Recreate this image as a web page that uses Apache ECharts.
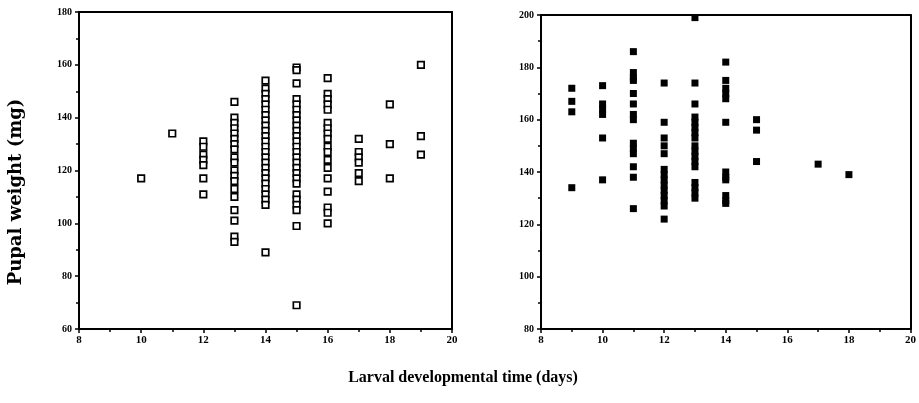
<!DOCTYPE html>
<html><head><meta charset="utf-8">
<script src="https://cdn.jsdelivr.net/npm/echarts@6/dist/echarts.min.js"></script>
<style>html,body{margin:0;padding:0;background:#fff}#c{width:919px;height:403px}</style>
</head><body><div id="c"></div>
<script>
// Left panel: developmental time (days) -> pupal weight (mg), hollow squares
const leftDays = [10, 11, 12, 13, 14, 15, 16, 17, 18, 19];
const leftWeights = [
  [117],
  [134],
  [131, 129, 126, 124, 122, 117, 111],
  [146, 140, 138, 136, 134, 132, 130, 128, 125, 123, 120, 118, 116, 113, 110, 105, 101, 95, 93],
  [154, 151, 149, 147, 145, 143, 141, 139, 137, 135, 133, 131, 129, 127, 125, 123, 121, 119, 117, 115, 113, 111, 109, 107, 89],
  [159, 158, 153, 147, 145, 143, 141, 139, 137, 135, 133, 131, 129, 127, 125, 123, 121, 119, 117, 115, 111, 109, 107, 105, 99, 69],
  [155, 149, 147, 145, 143, 138, 136, 134, 132, 129, 127, 124, 121, 117, 112, 106, 104, 100],
  [132, 127, 125, 123, 119, 116],
  [145, 130, 117],
  [160, 133, 126]
];
// Right panel: filled squares
const rightDays = [9, 10, 11, 12, 13, 14, 15, 17, 18];
const rightWeights = [
  [172, 167, 163, 134],
  [173, 166, 164, 162, 153, 137],
  [186, 178, 176, 175, 170, 166, 162, 160, 151, 149, 147, 142, 138, 126],
  [174, 159, 153, 150, 147, 141, 139, 137, 135, 133, 131, 129, 127, 122],
  [199, 174, 166, 161, 159, 157, 155, 153, 150, 148, 146, 144, 142, 136, 134, 132, 130],
  [182, 175, 172, 170, 168, 159, 140, 138, 137, 131, 129, 128],
  [160, 156, 144],
  [143],
  [139]
];
const xTicks = [8, 10, 12, 14, 16, 18, 20];
const leftYTicks = [60, 80, 100, 120, 140, 160, 180];
const rightYTicks = [80, 100, 120, 140, 160, 180, 200];

function toPts(days, weights) {
  const out = [];
  days.forEach((d, i) => weights[i].forEach(w => out.push([d, w])));
  return out;
}

const FONT = '"Liberation Serif", "DejaVu Serif", serif';
const axisLine = {show: true, lineStyle: {color: '#000', width: 2}};
function xAxis(gi) {
  return {
    type: 'value', gridIndex: gi, min: xTicks[0], max: xTicks[xTicks.length - 1], interval: 2,
    axisLine: axisLine,
    axisTick: {show: true, inside: false, length: 4, lineStyle: {color: '#000', width: 1.5}},
    minorTick: {show: true, splitNumber: 2, length: 3, lineStyle: {color: '#000', width: 1.5}},
    splitLine: {show: false},
    axisLabel: {color: '#000', fontFamily: FONT, fontWeight: 'bold', fontSize: 11, margin: 6}
  };
}
function xTop(gi) {
  return {type: 'value', gridIndex: gi, position: 'top', min: 8, max: 20,
    axisLine: axisLine, axisTick: {show: false}, axisLabel: {show: false}, splitLine: {show: false}};
}
function yAxis(gi, ticks) {
  return {
    type: 'value', gridIndex: gi, min: ticks[0], max: ticks[ticks.length - 1], interval: 20,
    axisLine: axisLine,
    axisTick: {show: true, inside: false, length: 4, lineStyle: {color: '#000', width: 1.5}},
    minorTick: {show: true, splitNumber: 2, length: 3, lineStyle: {color: '#000', width: 1.5}},
    splitLine: {show: false},
    axisLabel: {color: '#000', fontFamily: FONT, fontWeight: 'bold', fontSize: 10, margin: 7}
  };
}
function yRight(gi, ticks) {
  return {type: 'value', gridIndex: gi, position: 'right', min: ticks[0], max: ticks[ticks.length - 1],
    axisLine: axisLine, axisTick: {show: false}, axisLabel: {show: false}, splitLine: {show: false}};
}

const chart = echarts.init(document.getElementById('c'));
chart.setOption({
  animation: false,
  backgroundColor: '#fff',
  grid: [
    {left: 79, right: 467, top: 12, bottom: 74},
    {left: 541, right: 7, top: 15, bottom: 74}
  ],
  xAxis: [xAxis(0), xAxis(1), xTop(0), xTop(1)],
  yAxis: [yAxis(0, leftYTicks), yAxis(1, rightYTicks), yRight(0, leftYTicks), yRight(1, rightYTicks)],
  series: [
    {type: 'scatter', xAxisIndex: 0, yAxisIndex: 0, data: toPts(leftDays, leftWeights),
      symbol: 'rect', symbolSize: 6.5,
      itemStyle: {color: '#fff', borderColor: '#000', borderWidth: 1.7, opacity: 1}},
    {type: 'scatter', xAxisIndex: 1, yAxisIndex: 1, data: toPts(rightDays, rightWeights),
      symbol: 'rect', symbolSize: 7,
      itemStyle: {color: '#000', opacity: 1}}
  ],
  graphic: [
    {type: 'text', x: 16, y: 192, rotation: Math.PI / 2,
      style: {text: 'Pupal weight (mg)', font: 'bold 18px "DejaVu Serif", serif', fill: '#000',
        textAlign: 'center', textVerticalAlign: 'middle'}},
    {type: 'text', x: 463, y: 378,
      style: {text: 'Larval developmental time (days)', font: 'bold 16px ' + FONT, fill: '#000',
        textAlign: 'center', textVerticalAlign: 'middle'}}
  ]
});
</script></body></html>
